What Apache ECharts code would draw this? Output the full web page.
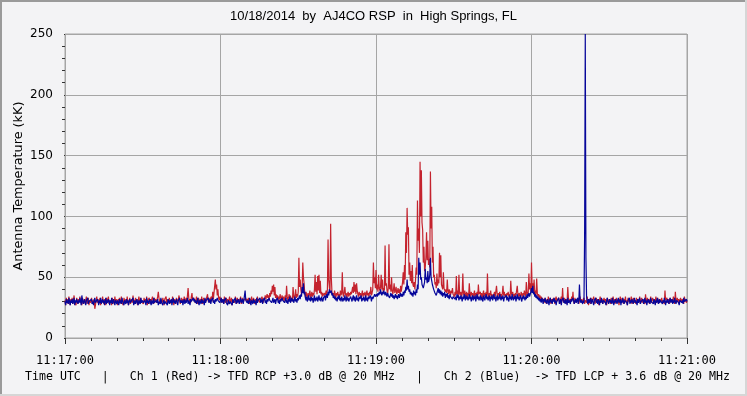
<!DOCTYPE html>
<html>
<head>
<meta charset="utf-8">
<script src="https://cdn.jsdelivr.net/npm/echarts@6/dist/echarts.min.js"></script>
<style>
html,body{margin:0;padding:0;background:#f3f3f5;}
#chart{width:747px;height:396px;}
</style>
</head>
<body>
<div id="chart"></div>
<script>
const titleText = '10/18/2014  by  AJ4CO RSP  in  High Springs, FL';
const footerText = 'Time UTC   |   Ch 1 (Red) -> TFD RCP +3.0 dB @ 20 MHz   |   Ch 2 (Blue)  -> TFD LCP + 3.6 dB @ 20 MHz';
const yAxisName = 'Antenna Temperature (kK)';
const tickLabels = ['11:17:00', '11:18:00', '11:19:00', '11:20:00', '11:21:00'];
const sampleStep = 0.25; // seconds between samples, starting at 11:17:00

// Ch 1 (Red), antenna temperature in kK, one value per 0.25 s (40 values per 10 s)
const ch1Red = [
31,27,33,29,32,28,34,30,27,32, 29,33,28,31,35,29,30,27,33,31, 28,32,30,34,29,31,27,33,30,28, 32,29,31,34,28,30,33,27,31,29,
30,33,28,31,29,32,24,27,31,34, 29,32,28,30,33,27,31,29,34,30, 28,32,31,27,33,29,30,34,28,31, 32,29,27,33,30,31,28,34,29,32,
30,27,32,29,33,28,31,34,29,30, 27,33,31,28,32,30,34,29,27,31, 33,28,30,32,29,35,30,28,31,33, 29,32,27,30,34,31,28,33,30,29,
31,28,33,30,32,29,34,27,31,30, 33,28,32,30,29,34,31,28,33,30, 32,29,31,34,38,33,30,28,32,31, 29,33,30,27,32,31,34,29,30,32,
30,33,28,31,32,29,34,30,27,32, 31,28,33,30,29,32,35,30,28,31, 33,29,32,30,34,31,29,33,30,35, 41,33,30,32,29,34,37,31,30,33,
32,29,31,34,30,28,33,31,29,32, 30,34,28,31,33,29,32,30,31,34, 36,30,33,29,32,31,34,30,38,32, 31,33,48,40,44,35,40,33,31,34,
31,33,29,32,30,28,34,31,29,33, 30,32,28,31,34,29,30,33,27,31, 32,30,29,34,31,28,33,30,32,29, 31,34,28,30,33,29,31,32,30,33,
30,32,29,33,31,28,32,30,34,29, 31,33,30,28,32,31,29,34,30,32, 33,29,31,30,34,32,29,33,31,35, 32,34,36,33,35,32,37,34,39,36,
43,38,44,35,42,33,36,32,35,31, 34,32,36,33,31,35,32,34,30,33, 35,32,43,34,31,33,36,32,35,30, 33,31,42,34,32,35,40,33,36,34,
38,66,42,48,40,36,39,62,50,45, 37,34,38,35,33,37,34,36,39,33, 35,38,34,37,35,40,52,38,46,36, 51,39,52,37,47,36,38,34,37,35,
34,37,35,39,36,40,81,48,42,37, 94,50,38,35,37,34,39,36,33,37, 35,38,34,36,33,39,35,37,54,36, 34,38,42,35,37,33,36,38,34,37,
35,38,36,39,42,37,46,38,44,36, 45,39,36,34,38,35,37,33,36,39, 34,37,35,38,33,36,39,35,37,34, 38,36,42,35,37,40,62,45,50,41,
56,40,44,38,52,41,39,42,52,40, 48,38,41,39,76,43,45,39,37,41, 77,40,44,38,50,39,36,40,45,37, 39,42,36,38,41,37,40,36,43,38,
42,46,54,44,60,48,87,70,107,85, 91,52,62,47,55,45,60,44,42,46, 40,48,58,52,113,80,90,70,145,100, 138,95,89,62,75,55,58,66,87,64,
80,60,65,58,137,90,108,62,75,50, 52,44,46,41,53,43,48,45,70,50, 68,44,45,40,54,41,42,38,40,37, 48,39,36,40,38,35,39,37,41,36,
37,34,38,35,51,36,39,34,52,37, 35,38,34,36,53,37,35,39,34,36, 38,33,37,35,45,36,34,38,35,37, 33,36,39,34,37,35,38,33,44,36,
35,38,34,37,33,36,39,34,37,35, 38,34,53,36,33,37,35,39,34,36, 37,33,36,38,34,35,43,36,33,37, 35,38,34,36,33,37,43,35,38,34,
36,33,37,35,38,34,36,33,47,37, 35,38,34,36,33,37,35,39,43,36, 34,37,35,33,38,36,34,37,35,39, 36,34,46,37,35,38,53,40,45,38,
62,41,45,38,48,36,39,35,49,37, 34,36,33,35,32,34,31,33,30,32, 29,33,31,28,32,30,34,29,31,33, 28,32,30,29,33,31,28,32,34,30,
31,29,33,30,28,32,34,30,41,31, 29,33,30,32,28,31,42,33,30,29, 32,30,34,31,38,30,28,33,31,29, 32,30,33,28,31,34,30,32,29,31,
30,33,28,31,32,29,34,30,27,32, 31,28,33,30,29,32,34,30,28,31, 33,29,32,30,27,31,34,29,30,32, 28,31,33,29,32,30,27,33,31,29,
32,30,28,33,31,29,34,30,32,28, 31,33,29,30,32,27,31,34,30,29, 33,31,28,32,30,34,29,31,27,33, 30,32,29,31,34,28,30,33,31,29,
31,28,33,30,32,29,31,34,28,30, 33,29,32,30,31,28,36,31,29,33, 30,32,28,31,34,29,30,33,31,28, 32,30,34,29,31,33,28,30,32,31,
30,33,29,31,32,28,39,31,30,33, 29,32,31,28,33,30,32,29,31,34, 30,28,38,31,29,33,30,32,28,31, 33,30,29,32,31,28,34,30,32,29,
31
];

// Ch 2 (Blue), antenna temperature in kK, one value per 0.25 s (40 values per 10 s)
const ch2Blue = [
30,27,32,29,31,28,33,30,27,31, 29,32,28,30,33,27,31,29,32,30, 28,31,29,33,30,27,35,31,28,30, 32,29,27,31,30,33,28,30,29,31,
29,32,28,30,27,31,33,29,30,28, 32,30,27,31,29,33,28,30,32,29, 31,27,30,33,28,31,29,32,30,27, 31,29,33,28,30,32,29,27,31,30,
28,31,30,27,32,29,31,28,33,30, 29,27,31,30,28,32,29,31,27,30, 32,29,28,31,30,33,27,29,31,28, 30,32,29,27,31,30,28,33,29,31,
32,29,28,31,30,27,33,29,31,28, 30,32,29,27,31,30,28,33,29,30, 28,31,29,32,27,30,31,28,33,29, 30,27,31,32,28,30,29,31,27,32,
30,28,31,29,32,27,30,33,29,31, 28,30,32,29,27,31,30,33,29,31, 29,31,27,30,32,28,31,29,30,33, 28,31,29,27,32,30,31,29,33,30,
32,29,31,28,30,33,29,27,31,30, 28,32,29,31,30,27,33,29,31,30, 31,33,29,30,32,28,31,30,33,29, 31,28,32,30,29,33,31,30,32,29,
31,33,29,30,32,28,31,30,33,29, 30,27,31,32,28,30,29,31,27,32, 29,31,30,33,28,31,29,32,30,28, 31,33,29,30,32,28,31,30,39,31,
32,29,31,28,30,33,29,27,31,30, 28,32,29,31,30,27,33,29,31,30, 31,33,29,30,32,28,31,30,33,29, 31,28,32,30,29,33,31,30,32,29,
31,33,29,30,32,28,31,30,33,29, 31,28,32,30,29,33,31,30,32,29, 30,33,29,31,28,32,30,34,29,31, 33,30,32,29,31,34,30,32,29,33,
31,33,35,32,36,34,42,37,45,36, 38,33,31,34,30,32,35,31,33,30, 34,31,33,29,32,35,30,33,31,34, 30,32,35,31,33,30,34,32,30,33,
32,35,31,34,36,33,38,35,40,37, 36,39,35,37,33,35,32,34,31,33, 30,34,32,35,31,33,30,34,32,30, 33,31,35,32,30,34,31,33,30,32,
31,34,32,30,33,35,31,34,30,32, 35,31,33,30,34,32,31,35,30,33, 31,34,32,30,35,31,33,30,34,32, 31,35,33,30,34,32,31,33,36,34,
33,36,34,37,35,38,36,40,37,35, 38,36,39,37,35,38,36,34,37,35, 36,33,35,37,34,36,33,35,32,34, 36,33,35,32,34,36,33,35,37,34,
36,34,38,35,39,37,42,39,48,40, 43,38,40,36,38,35,37,34,39,36, 38,35,40,37,44,40,66,52,62,48, 50,44,45,41,42,46,57,48,50,45,
55,46,48,52,66,50,50,44,44,40, 40,37,38,35,37,36,41,37,40,36, 39,35,38,34,37,35,38,33,36,34, 37,33,35,32,36,34,33,35,32,34,
33,35,32,34,31,36,33,35,31,34, 32,35,33,30,34,32,36,33,31,35, 32,34,31,33,36,32,34,30,33,35, 31,34,32,35,30,33,36,32,34,31,
33,35,31,34,32,30,35,33,31,34, 36,32,34,31,33,35,30,34,32,35, 31,33,36,32,34,30,33,35,31,34, 32,36,33,31,34,32,35,30,33,34,
32,35,31,34,33,30,35,32,34,31, 36,33,31,34,32,35,30,33,36,32, 34,31,33,35,32,30,34,32,35,33, 31,34,32,36,33,35,37,34,36,38,
41,37,43,36,38,34,36,33,35,32, 34,31,33,30,32,29,33,31,28,32, 30,33,29,31,28,32,30,27,31,33, 29,31,28,32,30,33,29,31,27,30,
31,29,33,28,30,32,27,31,30,33, 29,31,28,32,30,27,33,29,31,30, 28,32,30,29,33,31,28,30,32,29, 31,33,28,30,44,32,29,31,30,28,
31,29,86,250,66,34,30,28,32,29, 31,33,28,30,32,29,27,31,30,33, 29,31,28,32,30,27,31,29,33,30, 28,31,30,32,29,27,31,33,30,28,
30,32,29,31,28,33,30,27,31,29, 32,30,28,31,33,29,30,32,27,31, 29,33,30,28,31,30,32,29,27,31, 30,33,28,31,29,32,30,28,31,33,
29,31,30,27,32,29,31,33,28,30, 31,29,32,28,30,33,29,31,27,30, 32,29,31,28,33,30,29,31,28,32, 30,27,31,29,33,30,28,32,29,31,
30,32,28,31,29,33,30,27,31,29, 32,30,28,31,33,29,30,32,28,31, 29,33,30,28,31,30,32,29,27,31, 30,32,29,31,28,33,30,29,31,32,
30
];

const toPairs = arr => arr.map((v, i) => [i * sampleStep, v]);

const chart = echarts.init(document.getElementById('chart'), null, {renderer: 'canvas'});
const gridColor = '#a5a5a5';
const tickColor = '#333';
chart.setOption({
  animation: false,
  backgroundColor: '#f3f3f5',
  grid: {left: 65, right: 60, top: 34, bottom: 58, show: true, borderColor: gridColor, borderWidth: 1, backgroundColor: 'transparent'},
  xAxis: {
    type: 'value', min: 0, max: 240, interval: 60, offset: 4,
    axisLine: {show: false},
    axisTick: {show: true, length: 6, lineStyle: {color: tickColor}},
    minorTick: {show: true, splitNumber: 6, length: 3, lineStyle: {color: tickColor}},
    splitLine: {show: true, lineStyle: {color: gridColor, width: 1}},
    axisLabel: {
      margin: 13, color: '#000', fontFamily: 'DejaVu Sans Mono', fontSize: 12,
      showMinLabel: true, showMaxLabel: true,
      formatter: v => tickLabels[Math.round(v / 60)]
    }
  },
  yAxis: {
    type: 'value', min: 0, max: 250, interval: 50, offset: 4,
    name: yAxisName, nameLocation: 'middle', nameGap: 36, nameMoveOverlap: false,
    nameTextStyle: {fontFamily: 'DejaVu Sans', fontSize: 12.8, color: '#000'},
    axisLine: {show: false},
    axisTick: {show: true, length: 1, lineStyle: {color: tickColor}},
    minorTick: {show: true, splitNumber: 5, length: 3, lineStyle: {color: tickColor}},
    splitLine: {show: true, lineStyle: {color: gridColor, width: 1}},
    axisLabel: {margin: 8, color: '#000', fontFamily: 'DejaVu Sans', fontSize: 12}
  },
  series: [
    {type: 'line', data: toPairs(ch1Red), showSymbol: false, symbol: 'none', sampling: null,
     lineStyle: {color: '#c4232e', width: 1.2}, itemStyle: {color: '#c4232e'}, z: 2},
    {type: 'line', data: toPairs(ch2Blue), showSymbol: false, symbol: 'none', sampling: null,
     lineStyle: {color: '#06069a', width: 1.2}, itemStyle: {color: '#06069a'}, z: 3}
  ],
  graphic: [
    {type: 'text', left: 'center', top: 10, style: {text: titleText, font: '13px "Liberation Sans"', fill: '#000'}},
    {type: 'text', left: 25, top: 371, style: {text: footerText, font: '11.6px "DejaVu Sans Mono"', fill: '#000'}},
    {type: 'line', shape: {x1: 1, y1: 0, x2: 1, y2: 396}, style: {stroke: '#9a9a9a', lineWidth: 2}},
    {type: 'line', shape: {x1: 0, y1: 1, x2: 747, y2: 1}, style: {stroke: '#9a9a9a', lineWidth: 2}},
    {type: 'line', shape: {x1: 746, y1: 0, x2: 746, y2: 396}, style: {stroke: '#d6d6d6', lineWidth: 2}},
    {type: 'line', shape: {x1: 0, y1: 395, x2: 747, y2: 395}, style: {stroke: '#d6d6d6', lineWidth: 2}}
  ]
});
</script>
</body>
</html>
